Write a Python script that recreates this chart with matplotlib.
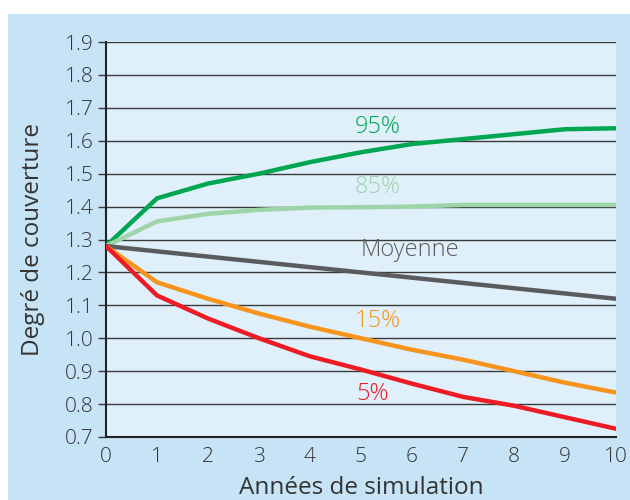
import matplotlib.pyplot as plt
from matplotlib.patches import Rectangle
import numpy as np

# données
annees = [0, 1, 2, 3, 4, 5, 6, 7, 8, 9, 10]
p95 = [1.28, 1.425, 1.47, 1.50, 1.535, 1.565, 1.59, 1.605, 1.62, 1.635, 1.638]
p85 = [1.28, 1.355, 1.378, 1.39, 1.397, 1.398, 1.40, 1.405, 1.405, 1.405, 1.405]
moyenne = [1.28, 1.264, 1.248, 1.232, 1.216, 1.20, 1.184, 1.168, 1.152, 1.136, 1.12]
p15 = [1.28, 1.17, 1.12, 1.075, 1.035, 1.0, 0.965, 0.935, 0.90, 0.865, 0.835]
p5 = [1.28, 1.13, 1.06, 1.0, 0.945, 0.905, 0.862, 0.822, 0.795, 0.76, 0.725]
yticks = [0.7, 0.8, 0.9, 1.0, 1.1, 1.2, 1.3, 1.4, 1.5, 1.6, 1.7, 1.8, 1.9]

plt.rcParams['font.family'] = ['Open Sans', 'DejaVu Sans']
plt.rcParams['font.weight'] = 'light'

fig = plt.figure(figsize=(6.3, 5.0), dpi=100)
# fond bleu du cadre (derrière les axes)
fig.add_artist(Rectangle((8/630, 0), 1, 1 - 14/500, transform=fig.transFigure,
                         facecolor='#c6e4f5', edgecolor='none', zorder=-10))

ax = fig.add_axes([106/630, 1 - 437/500, 510/630, 395/500])
ax.set_facecolor('#e0f0fa')

for y in yticks[1:]:
    ax.axhline(y, color='#3a3a3a', lw=1.0, zorder=1)

series = [
    (p95, '#00a651', '95%', 5.33, 1.642),
    (p85, '#9dd4a8', '85%', 5.33, 1.46),
    (moyenne, '#5b5b5f', 'Moyenne', 5.96, 1.268),
    (p15, '#f7941d', '15%', 5.33, 1.053),
    (p5, '#ed1c24', '5%', 5.22, 0.83),
]
for vals, col, lab, tx, ty in series:
    ax.plot(annees, vals, color=col, lw=3.2, solid_capstyle='round', zorder=3)
    ax.text(tx, ty, lab, color=col, fontsize=17, ha='center', va='center', zorder=4)

ax.set_xlim(0, 10)
ax.set_ylim(0.7, 1.9)
ax.set_xticks(annees)
ax.set_yticks(yticks)
ax.set_yticklabels(['%.1f' % v for v in yticks])
for s in ['top', 'right']:
    ax.spines[s].set_visible(False)
for s in ['left', 'bottom']:
    ax.spines[s].set_color('#222222')
    ax.spines[s].set_linewidth(1.5)
ax.tick_params(axis='y', length=6, width=1, color='#3a3a3a', labelsize=15, labelcolor='#333333', pad=3)
ax.tick_params(axis='x', length=0, labelsize=15, labelcolor='#333333', pad=7)
ax.set_xlabel('Années de simulation', fontsize=17.5, color='#333333', labelpad=7)
ax.set_ylabel('Degré de couverture', fontsize=17.5, color='#333333', labelpad=14)

plt.savefig('out.png', dpi=100)
